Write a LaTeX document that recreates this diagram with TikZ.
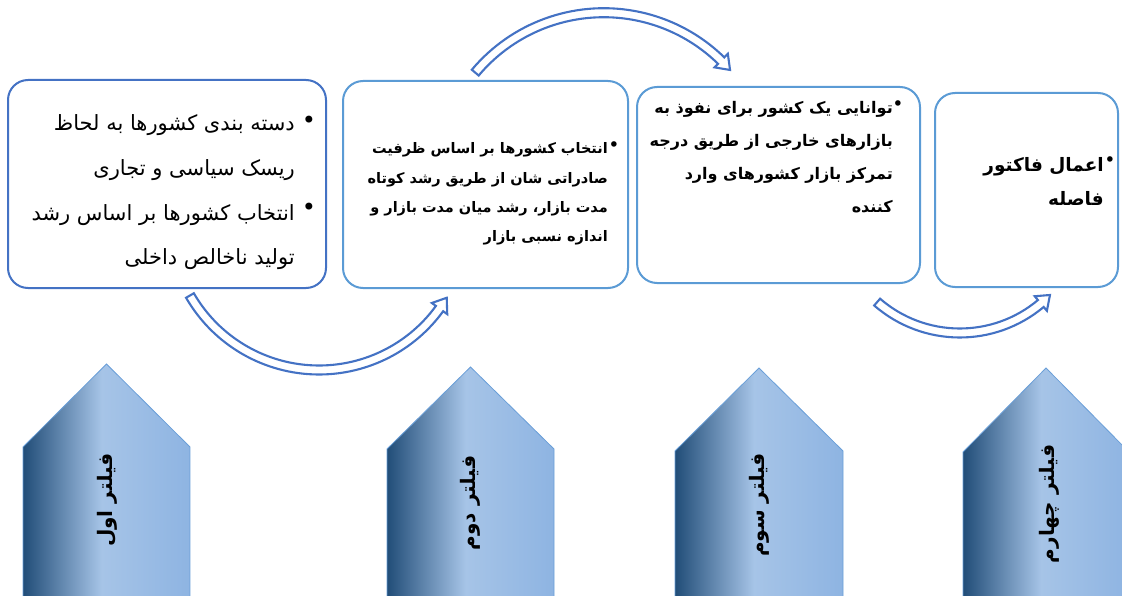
\documentclass[tikz,border=0pt]{standalone}
\usepackage{fontspec}
\TeXXeTstate=1
\newfontfamily\arabicfont[Script=Arabic]{DejaVu Sans}
\definecolor{boxdark}{HTML}{4472C4}
\definecolor{boxlight}{HTML}{5B9BD5}
\definecolor{arrowblue}{HTML}{4472C4}
\definecolor{pdark}{RGB}{33,77,120}
\definecolor{plight}{RGB}{166,196,231}
\definecolor{pright}{RGB}{142,180,226}
\definecolor{pedge}{HTML}{6A9FD8}
\pgfdeclarehorizontalshading{pentshade}{100bp}{color(0bp)=(pdark); color(25bp)=(pdark); color(48.5bp)=(plight); color(75bp)=(pright); color(100bp)=(pright)}
\tikzset{
  boxsty/.style={draw, line width=2pt, rounded corners=20pt, fill=white, inner sep=0pt},
  pentsty/.style={draw=pedge, line width=0.8pt, shading=pentshade},
  arrowsty/.style={draw=arrowblue, line width=2.1pt, fill=white, line join=miter},
  lineA/.style={anchor=base east, inner sep=0pt, font=\arabicfont\fontsize{21}{24}\selectfont},
  lineB/.style={anchor=base east, inner sep=0pt, font=\arabicfont\bfseries\fontsize{14.5}{17}\selectfont},
  lineC/.style={anchor=base east, inner sep=0pt, font=\arabicfont\bfseries\fontsize{16}{19}\selectfont},
  lineD/.style={anchor=base east, inner sep=0pt, font=\arabicfont\bfseries\fontsize{18.5}{22}\selectfont},
  pentlabel/.style={rotate=90, inner sep=0pt, font=\arabicfont\bfseries\fontsize{20}{24}\selectfont},
  bulletA/.style={inner sep=0pt, font=\arabicfont\fontsize{24}{26}\selectfont},
  bulletB/.style={inner sep=0pt, font=\arabicfont\fontsize{19}{22}\selectfont},
}
% center x, center y, radius, start angle, head base angle, tip angle
\newcommand\myarrow[6]{%
  \draw[arrowsty] ([shift={(#1,#2)}]#4:{#3+4.5}) arc[start angle=#4, end angle=#5, radius={#3+4.5}]
    -- ([shift={(#1,#2)}]#5:{#3+9.5}) -- ([shift={(#1,#2)}]#6:#3) -- ([shift={(#1,#2)}]#5:{#3-9.5})
    -- ([shift={(#1,#2)}]#5:{#3-4.5}) arc[start angle=#5, end angle=#4, radius={#3-4.5}] -- cycle;}
% left x, right x, apex y, shoulder y
\newcommand\mypent[4]{%
  \draw[pentsty] (#1,600) -- (#1,#4) -- ({(#1+#2)/2},#3) -- (#2,#4) -- (#2,600) -- cycle;}
\begin{document}
\begin{tikzpicture}[x=1pt,y=-1pt]
\useasboundingbox (0,0) rectangle (1122,596);
\clip (0,0) rectangle (1122,596);

% pentagons
\mypent{23}{190}{364}{447}
\mypent{387}{554}{367}{449}
\mypent{675}{843}{368}{451}
\mypent{963}{1129}{368}{452}
\node[pentlabel] (p1) at (107,500) {\beginR فیلتر اول\endR};
\node[pentlabel] (p2) at (470,503) {\beginR فیلتر دوم\endR};
\node[pentlabel] (p3) at (759,505) {\beginR فیلتر سوم\endR};
\node[pentlabel] (p4) at (1049,504) {\beginR فیلتر چهارم\endR};

% boxes
\node[boxsty, draw=boxdark, minimum width=318pt, minimum height=208pt] (b1) at (167,184) {};
\node[boxsty, draw=boxlight, minimum width=285pt, minimum height=207pt] (b2) at (485.5,184.5) {};
\node[boxsty, draw=boxlight, minimum width=283pt, minimum height=196pt] (b3) at (778.5,185) {};
\node[boxsty, draw=boxlight, minimum width=183pt, minimum height=194pt] (b4) at (1026.5,190) {};

% box 1 text
\node[bulletA] (u1a) at (309,122) {•};
\node[bulletA] (u1b) at (309,209) {•};
\node[lineA] (t1a) at (295,131) {\beginR دسته بندی کشورها به لحاظ\endR};
\node[lineA] (t1b) at (295,176) {\beginR ریسک سیاسی و تجاری\endR};
\node[lineA] (t1c) at (295,221) {\beginR انتخاب کشورها بر اساس رشد\endR};
\node[lineA] (t1d) at (295,265) {\beginR تولید ناخالص داخلی\endR};

% box 2 text
\node[bulletB] (u2) at (614,147) {•};
\node[lineB] (t2a) at (608,154) {\beginR انتخاب کشورها بر اساس ظرفیت\endR};
\node[lineB] (t2b) at (608,184) {\beginR صادراتی شان از طریق رشد کوتاه\endR};
\node[lineB] (t2c) at (608,213) {\beginR مدت بازار، رشد میان مدت بازار و\endR};
\node[lineB] (t2d) at (608,242) {\beginR اندازه نسبی بازار\endR};

% box 3 text
\node[bulletB] (u3) at (898,106) {•};
\node[lineC] (t3a) at (893,114) {\beginR توانایی یک کشور برای نفوذ به\endR};
\node[lineC] (t3b) at (893,147) {\beginR بازارهای خارجی از طریق درجه\endR};
\node[lineC] (t3c) at (893,180) {\beginR تمرکز بازار کشورهای وارد\endR};
\node[lineC] (t3d) at (893,213) {\beginR کننده\endR};

% box 4 text
\node[bulletB] (u4) at (1110,162) {•};
\node[lineD] (t4a) at (1104,172) {\beginR اعمال فاکتور\endR};
\node[lineD] (t4b) at (1104,206) {\beginR فاصله\endR};

% curved arrows
\myarrow{319}{221}{149}{150}{36}{31}
\myarrow{603.8}{180.5}{167.8}{220}{314.4}{318.8}
\myarrow{959.8}{207}{126}{131}{50}{44.3}
\end{tikzpicture}
\end{document}
